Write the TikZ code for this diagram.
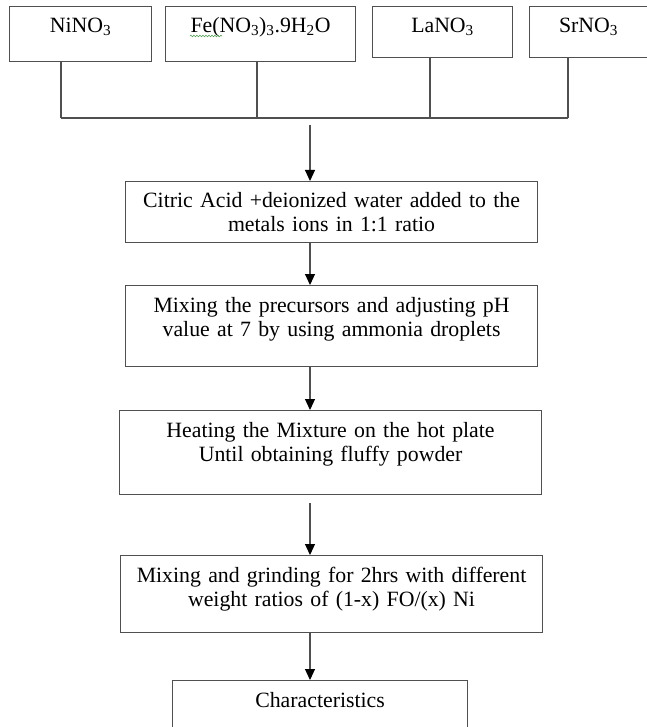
\documentclass[tikz,border=0pt]{standalone}
\usepackage{fontspec}
\setmainfont{Liberation Serif}
\usetikzlibrary{arrows.meta,decorations.pathmorphing}
\definecolor{linegray}{HTML}{505050}
\definecolor{spellgreen}{HTML}{5BA35B}
\begin{document}
\begin{tikzpicture}[x=1pt, y=-1pt, line width=1.1pt, >={Triangle[width=10pt,length=11pt,color=black]},
  stepbox/.style={draw=linegray, anchor=north west, inner sep=0pt, align=center, text height=27pt, font=\fontsize{21.8}{24}\selectfont}]
\path[use as bounding box, fill=white] (0,0) rectangle (646,727);
\begin{scope}[every node/.style={stepbox}]
\node[text width=142pt, text height=26pt, text depth=29pt] (ni) at (9,6) {NiNO\textsubscript{3}};
\node[text width=190pt, text height=26pt, text depth=29pt] (fe) at (165,6) {Fe(NO\textsubscript{3})\textsubscript{3}.9H\textsubscript{2}O};
\node[text width=140pt, text height=26pt, text depth=25pt] (la) at (372,6) {LaNO\textsubscript{3}};
\node[text width=118pt, text height=26pt, text depth=25pt] (sr) at (529,6) {SrNO\textsubscript{3}};
\node[text width=412pt, text height=26pt, text depth=35pt] (citric) at (125,181) {Citric Acid +deionized water added to the\\ metals ions in 1:1 ratio};
\node[text width=412pt, text depth=54pt] (mixing) at (125,285) {Mixing the precursors and adjusting pH\\ value at 7 by using ammonia droplets};
\node[text width=422pt, text depth=57pt] (heating) at (119,410) {Heating the Mixture on the hot plate\\ Until obtaining fluffy powder};
\node[text width=422pt, text depth=50pt] (grinding) at (120,555) {Mixing and grinding for 2hrs with different\\ weight ratios of (1-x) FO/(x) Ni};
\node[text width=295pt, text depth=38pt] (charac) at (172,680) {Characteristics};
\end{scope}
%spell check mark under Fe
\draw[spellgreen, line width=0.6pt, decorate, decoration={snake, amplitude=0.8pt, segment length=3pt}] (190,36) -- (222,36);
\begin{scope}[linegray]
\coordinate (j1) at (61,118);
\coordinate (j2) at (257,118);
\coordinate (j3) at (430,118);
\coordinate (j4) at (568,118);
\coordinate (hub) at (310,125);
\draw (ni.south -| j1) -- (j1);
\draw (fe.south -| j2) -- (j2);
\draw (la.south -| j3) -- (j3);
\draw (sr.south -| j4) -- (j4);
\draw (j1) -- (j4);
\draw[->] (hub) -- (citric.north -| hub);
\draw[->] (citric.south -| hub) -- (mixing.north -| hub);
\draw[->] (mixing.south -| hub) -- (heating.north -| hub);
\draw[->, shorten <=8pt] (heating.south -| hub) -- (grinding.north -| hub);
\draw[->] (grinding.south -| hub) -- (charac.north -| hub);
\end{scope}
\end{tikzpicture}
\end{document}
